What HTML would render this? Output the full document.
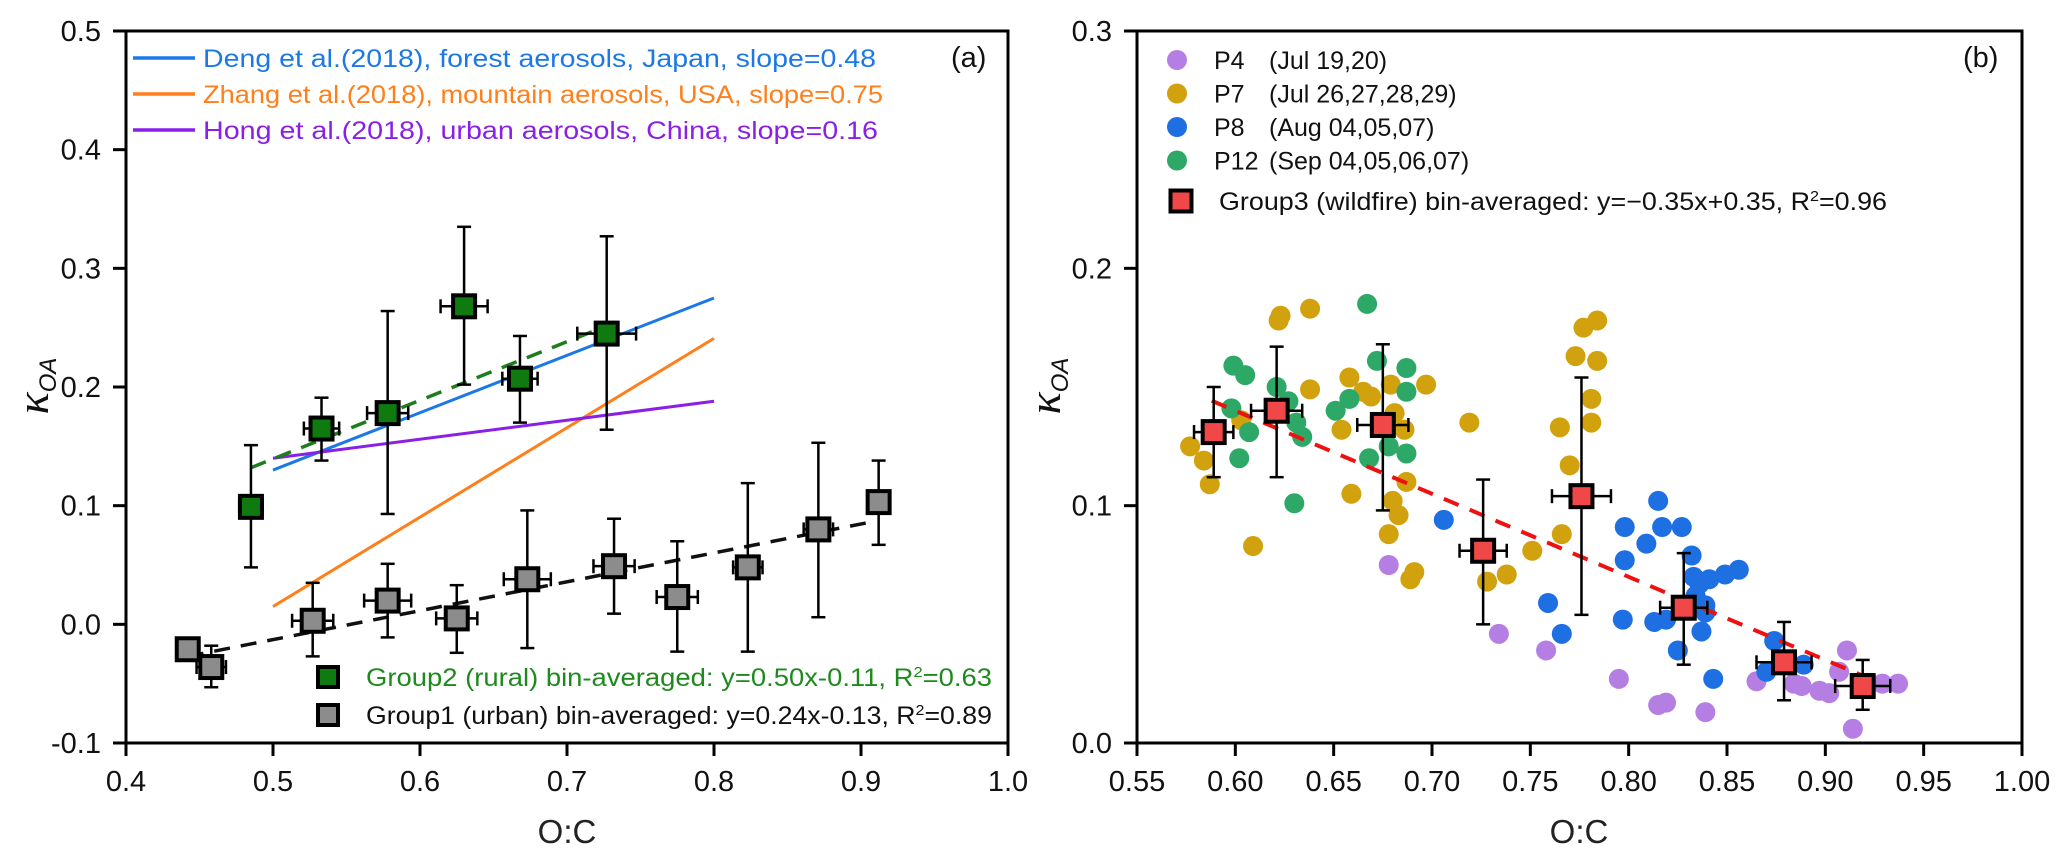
<!DOCTYPE html>
<html><head><meta charset="utf-8"><style>
html,body{margin:0;padding:0;background:#fff;}
svg{display:block;font-family:"Liberation Sans",Arial,sans-serif;}
</style></head><body>
<svg id="fig" width="2067" height="864" viewBox="0 0 2067 864" xmlns="http://www.w3.org/2000/svg">
<rect width="2067" height="864" fill="#fff"/>
<g id="pa"></g>
<g id="pb"></g>
</svg>
<script>
// ---------- Panel (a) data ----------
const aXTicks = [0.4,0.5,0.6,0.7,0.8,0.9,1.0];
const aXTickLabels = ["0.4","0.5","0.6","0.7","0.8","0.9","1.0"];
const aYTicks = [-0.1,0.0,0.1,0.2,0.3,0.4,0.5];
const aYTickLabels = ["-0.1","0.0","0.1","0.2","0.3","0.4","0.5"];
const g2X = [0.485,0.533,0.578,0.630,0.668,0.727];
const g2Y = [0.099,0.165,0.178,0.268,0.207,0.245];
const g2Lo = [0.048,0.138,0.093,0.202,0.170,0.164];
const g2Hi = [0.151,0.191,0.264,0.335,0.243,0.327];
const g2Xerr = [0.008,0.012,0.014,0.016,0.012,0.020];
const g1X = [0.442,0.458,0.527,0.578,0.625,0.673,0.732,0.775,0.823,0.871,0.912];
const g1Y = [-0.021,-0.036,0.003,0.020,0.005,0.038,0.049,0.023,0.048,0.080,0.103];
const g1Lo = [-0.021,-0.053,-0.027,-0.011,-0.024,-0.020,0.009,-0.023,-0.023,0.006,0.067];
const g1Hi = [-0.021,-0.018,0.035,0.051,0.033,0.096,0.089,0.070,0.119,0.153,0.138];
const g1Xerr = [0.0,0.010,0.014,0.016,0.014,0.016,0.014,0.014,0.010,0.010,0.0];
const refLineNames = ["deng","zhang","hong"];
const refX0 = [0.5,0.5,0.5];
const refX1 = [0.8,0.8,0.8];
const refY0 = [0.130,0.015,0.140];
const refY1 = [0.275,0.241,0.188];
const fitG2 = [0.485,0.132,0.730,0.253];
const fitG1 = [0.442,-0.027,0.910,0.087];

// ---------- Panel (b) data ----------
const bXTicks = [0.55,0.60,0.65,0.70,0.75,0.80,0.85,0.90,0.95,1.00];
const bXTickLabels = ["0.55","0.60","0.65","0.70","0.75","0.80","0.85","0.90","0.95","1.00"];
const bYTicks = [0.0,0.1,0.2,0.3];
const bYTickLabels = ["0.0","0.1","0.2","0.3"];
const p4X = [0.678,0.734,0.758,0.795,0.815,0.819,0.839,0.865,0.884,0.888,0.897,0.902,0.907,0.911,0.914,0.929,0.937];
const p4Y = [0.075,0.046,0.039,0.027,0.016,0.017,0.013,0.026,0.025,0.024,0.022,0.021,0.030,0.039,0.006,0.025,0.025];
const p7X = [0.577,0.584,0.587,0.603,0.609,0.622,0.623,0.638,0.638,0.654,0.658,0.659,0.665,0.669,0.679,0.681,0.680,0.683,0.678,0.686,0.687,0.689,0.691,0.697,0.719,0.728,0.738,0.751,0.765,0.766,0.770,0.773,0.777,0.781,0.781,0.784,0.784];
const p7Y = [0.125,0.119,0.109,0.136,0.083,0.178,0.180,0.183,0.149,0.132,0.154,0.105,0.148,0.146,0.151,0.139,0.102,0.096,0.088,0.132,0.110,0.069,0.072,0.151,0.135,0.068,0.071,0.081,0.133,0.088,0.117,0.163,0.175,0.145,0.135,0.178,0.161];
const p8X = [0.706,0.759,0.766,0.797,0.798,0.798,0.809,0.815,0.817,0.827,0.813,0.825,0.832,0.833,0.836,0.839,0.837,0.841,0.843,0.849,0.856,0.874,0.870,0.879,0.889,0.819,0.834,0.839];
const p8Y = [0.094,0.059,0.046,0.052,0.077,0.091,0.084,0.102,0.091,0.091,0.051,0.039,0.079,0.070,0.067,0.058,0.047,0.069,0.027,0.071,0.073,0.043,0.030,0.034,0.033,0.052,0.062,0.055];
const p12X = [0.599,0.605,0.598,0.602,0.607,0.621,0.627,0.631,0.634,0.630,0.651,0.658,0.667,0.672,0.668,0.678,0.687,0.687,0.687];
const p12Y = [0.159,0.155,0.141,0.120,0.131,0.150,0.144,0.135,0.129,0.101,0.140,0.145,0.185,0.161,0.120,0.125,0.122,0.158,0.148];
const g3X = [0.589,0.621,0.675,0.726,0.776,0.828,0.879,0.919];
const g3Y = [0.131,0.140,0.134,0.081,0.104,0.057,0.034,0.024];
const g3Lo = [0.112,0.112,0.098,0.050,0.054,0.033,0.018,0.014];
const g3Hi = [0.150,0.167,0.168,0.111,0.154,0.080,0.051,0.035];
const g3Xerr = [0.010,0.013,0.013,0.012,0.015,0.012,0.014,0.014];
const fitG3Range = [0.588,0.920];
const fitG3Slope = -0.35, fitG3Int = 0.35;

const NS="http://www.w3.org/2000/svg";
function mk(parent,tag,attrs,text){const e=document.createElementNS(NS,tag);for(const k in attrs)e.setAttribute(k,attrs[k]);if(text!==undefined)e.textContent=text;parent.appendChild(e);return e;}

const ax={x0:126,x1:1008,xmin:0.4,xmax:1.0,y0:743,y1:31,ymin:-0.1,ymax:0.5};
const bx={x0:1137,x1:2022,xmin:0.55,xmax:1.0,y0:743,y1:31,ymin:0.0,ymax:0.3};
function sx(A,v){return A.x0+(v-A.xmin)/(A.xmax-A.xmin)*(A.x1-A.x0);}
function sy(A,v){return A.y0-(v-A.ymin)/(A.ymax-A.ymin)*(A.y0-A.y1);}

function frame(G,A,xt,xl,yt,yl,pre){
  let r=mk(G,'rect',{x:A.x0,y:A.y1,width:A.x1-A.x0,height:A.y0-A.y1,fill:'none',stroke:'#000','stroke-width':3});
  
  
  const gx=mk(G,'g',{});
  
  
  xt.forEach((v,i)=>{const x=sx(A,v);
    mk(gx,'line',{x1:x,x2:x,y1:A.y0,y2:A.y0+13,stroke:'#000','stroke-width':3});
    const t=mk(gx,'text',{x:x,y:A.y0+48,'font-size':29,'text-anchor':'middle',fill:'#111'},xl[i]);
    
    
  });
  const gy=mk(G,'g',{});
  
  
  yt.forEach((v,i)=>{const y=sy(A,v);
    mk(gy,'line',{x1:A.x0-13,x2:A.x0,y1:y,y2:y,stroke:'#000','stroke-width':3});
    const t=mk(gy,'text',{x:A.x0-25,y:y+10,'font-size':29,'text-anchor':'end',fill:'#111'},yl[i]);
    
    
  });
}
function errbar(G,A,x,y,lo,hi,xe){
  const px=sx(A,x);
  mk(G,'line',{x1:px,x2:px,y1:sy(A,lo),y2:sy(A,hi),stroke:'#000','stroke-width':2.5});
  if(hi>lo){
    mk(G,'line',{x1:px-7,x2:px+7,y1:sy(A,lo),y2:sy(A,lo),stroke:'#000','stroke-width':2.5});
    mk(G,'line',{x1:px-7,x2:px+7,y1:sy(A,hi),y2:sy(A,hi),stroke:'#000','stroke-width':2.5});
  }
  if(xe>0){const py=sy(A,y),a=sx(A,x-xe),b=sx(A,x+xe);
    mk(G,'line',{x1:a,x2:b,y1:py,y2:py,stroke:'#000','stroke-width':2.5});
    mk(G,'line',{x1:a,x2:a,y1:py-7,y2:py+7,stroke:'#000','stroke-width':2.5});
    mk(G,'line',{x1:b,x2:b,y1:py-7,y2:py+7,stroke:'#000','stroke-width':2.5});}
}
function square(G,cx,cy,fill,s){return mk(G,'rect',{x:cx-s/2,y:cy-s/2,width:s,height:s,fill:fill,stroke:'#000','stroke-width':4});}

// ---------- Panel A ----------
const PA=document.getElementById('pa');
frame(PA,ax,aXTicks,aXTickLabels,aYTicks,aYTickLabels,'a-');
const refColors=['#1b78e6','#ff7f1a','#8a1fe8'];
refLineNames.forEach((n,i)=>{
  const l=mk(PA,'line',{x1:sx(ax,refX0[i]),y1:sy(ax,refY0[i]),x2:sx(ax,refX1[i]),y2:sy(ax,refY1[i]),stroke:refColors[i],'stroke-width':3});
  
  
});
let f2=mk(PA,'line',{x1:sx(ax,fitG2[0]),y1:sy(ax,fitG2[1]),x2:sx(ax,fitG2[2]),y2:sy(ax,fitG2[3]),stroke:'#1e7d1e','stroke-width':3.5,'stroke-dasharray':'16,11'});


let f1=mk(PA,'line',{x1:sx(ax,fitG1[0]),y1:sy(ax,fitG1[1]),x2:sx(ax,fitG1[2]),y2:sy(ax,fitG1[3]),stroke:'#111','stroke-width':3.5,'stroke-dasharray':'16,11'});


g1X.forEach((x,i)=>{
  const g=mk(PA,'g',{});
  
  
  errbar(g,ax,x,g1Y[i],g1Lo[i],g1Hi[i],g1Xerr[i]);
  square(g,sx(ax,x),sy(ax,g1Y[i]),'#8c8c8c',22);
});
g2X.forEach((x,i)=>{
  const g=mk(PA,'g',{});
  
  
  errbar(g,ax,x,g2Y[i],g2Lo[i],g2Hi[i],g2Xerr[i]);
  square(g,sx(ax,x),sy(ax,g2Y[i]),'#0f7a0f',22);
});
const refTexts=['Deng et al.(2018), forest aerosols, Japan, slope=0.48','Zhang et al.(2018), mountain aerosols, USA, slope=0.75','Hong et al.(2018), urban aerosols,  China, slope=0.16'];
const refLens=[673,680,675];
refTexts.forEach((t,i)=>{
  const y=58+i*36;
  const g=mk(PA,'g',{});
  
  
  mk(g,'line',{x1:133,x2:195,y1:y,y2:y,stroke:refColors[i],'stroke-width':3.5});
  mk(g,'text',{x:203,y:y+9,'font-size':25,fill:refColors[i],textLength:refLens[i],lengthAdjust:'spacingAndGlyphs','xml:space':'preserve'},t);
});
let pl=mk(PA,'text',{x:951,y:67,'font-size':29,fill:'#111'},'(a)');


[['#0f7a0f','#1e8a1e','Group2 (rural) bin-averaged: y=0.50x-0.11, R','=0.63',677,'legend-entry-group2'],
 ['#8c8c8c','#111','Group1 (urban) bin-averaged: y=0.24x-0.13, R','=0.89',715,'legend-entry-group1']].forEach(e=>{
  const g=mk(PA,'g',{});
  
  
  square(g,328,e[4],e[0],20);
  const t=mk(g,'text',{x:366,y:e[4]+9,'font-size':25,fill:e[1],textLength:626,lengthAdjust:'spacingAndGlyphs'});
  mk(t,'tspan',{},e[2]);mk(t,'tspan',{dy:-9,'font-size':15},'2');mk(t,'tspan',{dy:9},e[3]);
});
let ayt=mk(PA,'text',{x:0,y:0,'font-size':34,fill:'#111',transform:'translate(48,386) rotate(-90)','text-anchor':'middle'});
mk(ayt,'tspan',{'font-family':'Liberation Serif','font-style':'italic','font-size':46},'κ');mk(ayt,'tspan',{'font-size':24,dy:8,'font-style':'italic'},'OA');


let axt=mk(PA,'text',{x:567,y:843,'font-size':33,'text-anchor':'middle',fill:'#222'},'O:C');



// ---------- Panel B ----------
const PB=document.getElementById('pb');
frame(PB,bx,bXTicks,bXTickLabels,bYTicks,bYTickLabels,'b-');
const series=[[p4X,p4Y,'#b47ee3','p4-point'],[p7X,p7Y,'#d2a10e','p7-point'],[p8X,p8Y,'#1e6fe2','p8-point'],[p12X,p12Y,'#2ea866','p12-point']];
series.forEach(s=>{
  s[0].forEach((x,i)=>{
    const c=mk(PB,'circle',{cx:sx(bx,x),cy:sy(bx,s[1][i]),r:10,fill:s[2]});
    
    
  });
});
let f3=mk(PB,'line',{x1:sx(bx,fitG3Range[0]),y1:sy(bx,fitG3Slope*fitG3Range[0]+fitG3Int),x2:sx(bx,fitG3Range[1]),y2:sy(bx,fitG3Slope*fitG3Range[1]+fitG3Int),stroke:'#ee1111','stroke-width':4,'stroke-dasharray':'16,12'});


g3X.forEach((x,i)=>{
  const g=mk(PB,'g',{});
  
  
  errbar(g,bx,x,g3Y[i],g3Lo[i],g3Hi[i],g3Xerr[i]);
  square(g,sx(bx,x),sy(bx,g3Y[i]),'#f04848',22);
});
const bLeg=[['#b47ee3','P4','(Jul 19,20)'],['#d2a10e','P7','(Jul 26,27,28,29)'],['#1e6fe2','P8','(Aug 04,05,07)'],['#2ea866','P12','(Sep 04,05,06,07)']];
bLeg.forEach((e,i)=>{
  const y=60+i*33.5;
  const g=mk(PB,'g',{});
  
  
  mk(g,'circle',{cx:1177,cy:y,r:10,fill:e[0]});
  mk(g,'text',{x:1214,y:y+9,'font-size':25,fill:'#111'},e[1]);
  mk(g,'text',{x:1269,y:y+9,'font-size':25,fill:'#111'},e[2]);
});
const gl=mk(PB,'g',{});


square(gl,1181,201,'#f04848',21);
const t3=mk(gl,'text',{x:1219,y:210,'font-size':25,fill:'#111',textLength:668,lengthAdjust:'spacingAndGlyphs'});
mk(t3,'tspan',{},'Group3 (wildfire) bin-averaged: y=\u22120.35x+0.35, R');mk(t3,'tspan',{dy:-9,'font-size':15},'2');mk(t3,'tspan',{dy:9},'=0.96');
let pbl=mk(PB,'text',{x:1963,y:67,'font-size':29,fill:'#111'},'(b)');


let byt=mk(PB,'text',{x:0,y:0,'font-size':34,fill:'#111',transform:'translate(1060,386) rotate(-90)','text-anchor':'middle'});
mk(byt,'tspan',{'font-family':'Liberation Serif','font-style':'italic','font-size':46},'κ');mk(byt,'tspan',{'font-size':24,dy:8,'font-style':'italic'},'OA');


let bxt=mk(PB,'text',{x:1579,y:843,'font-size':33,'text-anchor':'middle',fill:'#222'},'O:C');


</script>
</body></html>
